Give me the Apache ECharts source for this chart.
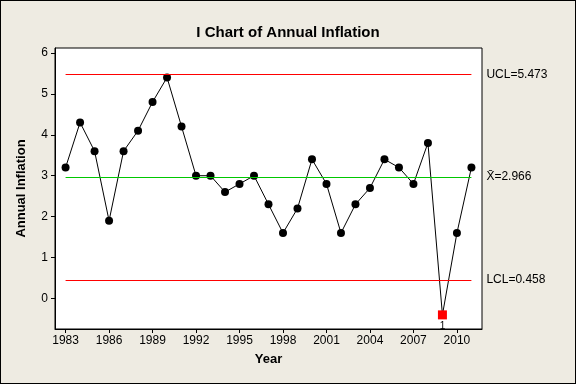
<!DOCTYPE html>
<html><head><meta charset="utf-8">
<script src="https://cdn.jsdelivr.net/npm/echarts@6/dist/echarts.min.js"></script>
<style>html,body{margin:0;padding:0;background:#EEEBE2;}#c{width:576px;height:384px;box-sizing:border-box;border:1px solid #000;}</style>
</head><body><div id="c"></div>
<script>
const years = [1983,1984,1985,1986,1987,1988,1989,1990,1991,1992,1993,1994,1995,1996,1997,1998,1999,2000,2001,2002,2003,2004,2005,2006,2007,2008,2009,2010,2011];
const inflation = [3.2,4.3,3.6,1.9,3.6,4.1,4.8,5.4,4.2,3.0,3.0,2.6,2.8,3.0,2.3,1.6,2.2,3.4,2.8,1.6,2.3,2.7,3.4,3.2,2.8,3.8,-0.4,1.6,3.2];
const xTicks = [1983,1986,1989,1992,1995,1998,2001,2004,2007,2010];
const yTicks = [0,1,2,3,4,5,6];
const UCL = 5.473, MEAN = 2.966, LCL = 0.458;

const font = 'Liberation Sans';
const data = years.map((y,i)=>{
  const v = inflation[i];
  const out = v > UCL || v < LCL;
  if (!out) return [y, v];
  return {value:[y,v], symbol:'rect', symbolSize:9, itemStyle:{color:'#FF0000'},
    label:{show:true, position:'bottom', distance:2, formatter:'1', fontSize:10, color:'#000', fontFamily:font}};
});
const first = years[0], last = years[years.length-1];
function limitLine(v, color, text){
  return [{coord:[first, v], lineStyle:{color:color, width:1, type:'solid'},
           label:{show:true, position:'end', formatter:text, distance:15, color:'#000', fontSize:12, fontFamily:font}},
          {coord:[last, v]}];
}
const chart = echarts.init(document.getElementById('c'));
chart.setOption({
  backgroundColor:'#EEEBE2',
  animation:false,
  title:{text:'I Chart of Annual Inflation', left:'center', top:19,
    textStyle:{fontFamily:font, fontWeight:'bold', fontSize:15, color:'#000'}},
  grid:{left:54, top:47, right:93, bottom:54, show:true, backgroundColor:'#fff', borderColor:'#000', borderWidth:1},
  xAxis:{type:'value', min:1982.27, max:2011.73,
    name:'Year', nameLocation:'middle', nameGap:24,
    nameTextStyle:{fontFamily:font, fontWeight:'bold', fontSize:13, color:'#000'},
    axisLine:{show:true, onZero:false, lineStyle:{color:'#000'}}, splitLine:{show:false},
    axisTick:{show:true, length:4, customValues:xTicks, lineStyle:{color:'#000'}},
    axisLabel:{customValues:xTicks, formatter:(v)=>String(v), fontFamily:font, fontSize:12, color:'#000', margin:6}},
  yAxis:{type:'value', min:-0.745, max:6.12,
    name:'Annual Inflation', nameLocation:'middle', nameGap:27,
    nameTextStyle:{fontFamily:font, fontWeight:'bold', fontSize:13, color:'#000'},
    axisLine:{show:true, onZero:false, lineStyle:{color:'#000'}}, splitLine:{show:false},
    axisTick:{show:true, length:4, customValues:yTicks, lineStyle:{color:'#000'}},
    axisLabel:{customValues:yTicks, formatter:(v)=>String(v), fontFamily:font, fontSize:12, color:'#000', margin:7}},
  series:[{type:'line', data:data, symbol:'circle', symbolSize:8,
    itemStyle:{color:'#000'}, lineStyle:{color:'#000', width:1},
    markLine:{symbol:['none','none'], silent:true, animation:false,
      data:[limitLine(UCL,'#FF0000','UCL=5.473'), limitLine(MEAN,'#00C800','X\u0304=2.966'), limitLine(LCL,'#FF0000','LCL=0.458')]}}]
});
</script></body></html>
